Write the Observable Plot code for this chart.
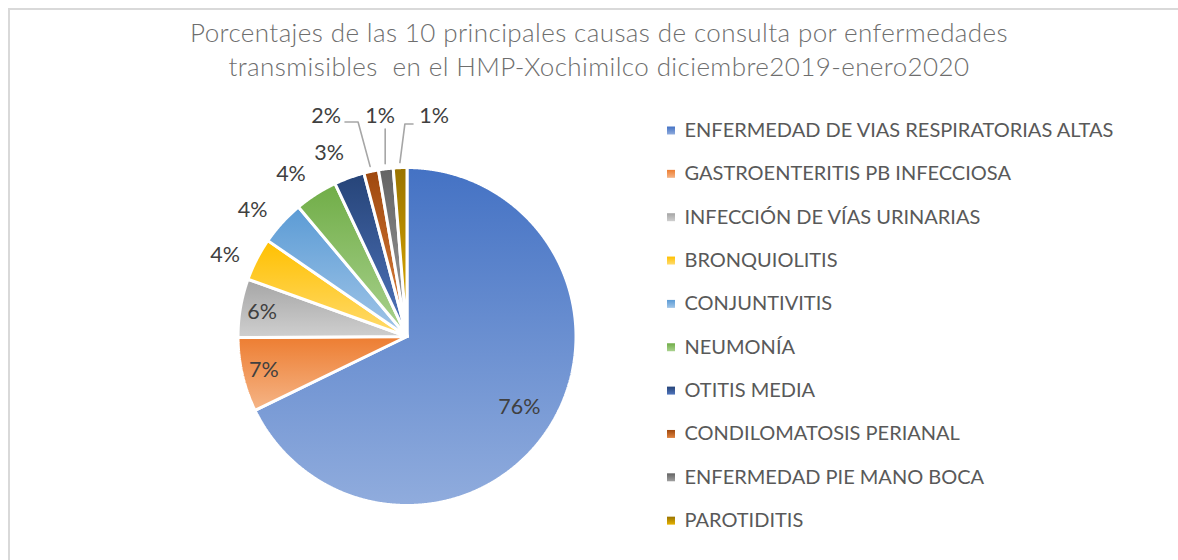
<!DOCTYPE html>
<html><head><meta charset="utf-8">
<script src="https://cdn.jsdelivr.net/npm/d3@7"></script>
<script src="https://cdn.jsdelivr.net/npm/@observablehq/plot@0.6"></script>
<style>
html,body{margin:0;padding:0;background:#fff;width:1178px;height:560px;overflow:hidden}
#frame{position:absolute;left:8px;top:8px;width:1220px;height:620px;border-left:2px solid #d9d9d9;border-top:2px solid #d9d9d9}
#chart{position:absolute;left:0;top:0}
#title{position:absolute;left:0;top:15px;width:1198px;text-align:center;font-family:Lato,"Open Sans",sans-serif;font-weight:300;font-size:26px;letter-spacing:0.4px;line-height:34px;color:#6e6e6e;white-space:pre}
</style></head><body>
<div id="frame"></div>
<div id="chart"></div>
<div id="title"></div>
<script>
// ---- data ----
const categories = [
  "ENFERMEDAD DE VIAS RESPIRATORIAS ALTAS",
  "GASTROENTERITIS PB INFECCIOSA",
  "INFECCIÓN DE VÍAS URINARIAS",
  "BRONQUIOLITIS",
  "CONJUNTIVITIS",
  "NEUMONÍA",
  "OTITIS MEDIA",
  "CONDILOMATOSIS PERIANAL",
  "ENFERMEDAD PIE MANO BOCA",
  "PAROTIDITIS"
];
// percentages printed on the chart
const percentLabels = [76, 7, 6, 4, 4, 4, 3, 2, 1, 1];
// angular share of each slice as drawn in the picture (estimated)
const sliceShares = [67.8, 7.1, 5.6, 4.1, 4.3, 4.1, 2.9, 1.4, 1.4, 1.3];
const labelPlacement = ["inside","inside","inside","outside","outside","outside","outside","leader","leader","leader"];
const gradientTop    = ["#4472C4","#ED7D31","#A5A5A5","#FFC000","#5B9BD5","#70AD47","#264478","#9E480E","#636363","#997300"];
const gradientBottom = ["#90ACDD","#F5B587","#CFCFCF","#FFDB6E","#A2C6E8","#AAD28F","#5075BD","#E0833F","#A0A0A0","#E6B200"];
const titleLines = [
  "Porcentajes de las 10 principales causas de consulta por enfermedades",
  "transmisibles  en el HMP-Xochimilco diciembre2019-enero2020"
];

// ---- layout ----
const W = 1178, H = 560;
const cx = 406.5, cy = 336, R = 169;
const legendX = 670.5, legendTextX = 684, legendTop = 130, legendStep = 43.35;

document.getElementById("title").textContent = titleLines.join("\n");

const rows = categories.map((cat, i) => ({
  cat, i, share: sliceShares[i], pct: percentLabels[i], place: labelPlacement[i]
}));
const arcs = d3.pie().sort(null).value(d => d.share)(rows);
const pt = (a, r) => ({x: cx + r * Math.sin(a), y: cy - r * Math.cos(a)});

// slice polygons
const slicePts = [];
arcs.forEach(a => {
  slicePts.push({cat: a.data.cat, ...pt(0, 0)});
  const n = Math.max(2, Math.ceil((a.endAngle - a.startAngle) / (Math.PI / 720)));
  for (let k = 0; k <= n; k++) {
    const ang = a.startAngle + (a.endAngle - a.startAngle) * k / n;
    slicePts.push({cat: a.data.cat, ...pt(ang, R)});
  }
  slicePts.push({cat: a.data.cat, ...pt(0, 0)});
});

// labels
const deg = Math.PI / 180;
const labelPts = [];
const leaderPts = [];
let leaderIdx = 0;
const nLeader = labelPlacement.filter(p => p === "leader").length;
arcs.forEach(a => {
  const mid = (a.startAngle + a.endAngle) / 2;
  const d = a.data;
  let p;
  if (d.place === "inside") {
    p = pt(mid, R * (d.share > 50 ? 0.785 : 0.87));
  } else if (d.place === "outside") {
    p = pt(mid - 3 * deg, R * 1.18);
  } else {
    p = {x: cx + (leaderIdx - (nLeader - 1) / 2 - 0.5) * 54, y: cy - R * 1.305};
    leaderIdx++;
    const e = pt(mid, R * 1.03);
    const dx = p.x - e.x;
    let s, el;
    if (dx < -15) { s = {x: p.x + 19, y: p.y + 6}; el = {x: e.x - 12, y: p.y + 6}; }
    else if (dx > 15) { s = {x: p.x - 21, y: p.y + 8}; el = {x: e.x + 5, y: p.y + 8}; }
    else { s = {x: e.x, y: p.y + 13}; el = s; }
    leaderPts.push({cat: d.cat, ...s}, {cat: d.cat, ...el}, {cat: d.cat, ...e});
  }
  labelPts.push({cat: d.cat, text: d.pct + "%", ...p});
});

const gradients = () => {
  const defs = d3.create("svg:defs");
  categories.forEach((c, i) => {
    const g = defs.append("linearGradient").attr("id", "grad" + i)
      .attr("x1", 0).attr("y1", 0).attr("x2", 0).attr("y2", 1);
    g.append("stop").attr("offset", "0%").attr("stop-color", gradientTop[i]);
    g.append("stop").attr("offset", "100%").attr("stop-color", gradientBottom[i]);
  });
  return defs.node();
};

const chart = Plot.plot({
  width: W, height: H, margin: 0,
  x: {domain: [0, W], range: [0, W], axis: null},
  y: {domain: [0, H], range: [0, H], axis: null},
  color: {type: "ordinal", domain: categories, range: categories.map((c, i) => `url(#grad${i})`)},
  style: {fontFamily: "Lato, 'Open Sans', sans-serif", background: "transparent", overflow: "visible"},
  marks: [
    gradients,
    Plot.line(slicePts, {x: "x", y: "y", z: "cat", fill: "cat", stroke: "white", strokeWidth: 3, strokeLinejoin: "miter", curve: "linear"}),
    Plot.line(leaderPts, {x: "x", y: "y", z: "cat", stroke: "#a6a6a6", strokeWidth: 1.6}),
    Plot.text(labelPts, {x: "x", y: "y", text: "text", fill: "#404040", fontSize: 21.5}),
    Plot.dot(rows, {x: () => legendX, y: d => legendTop + d.i * legendStep, symbol: "square", r: 4.5, fill: "cat", stroke: null}),
    Plot.text(rows, {x: () => legendTextX, y: d => legendTop + d.i * legendStep, text: "cat", textAnchor: "start", fill: "#595959", fontSize: 20})
  ]
});
document.getElementById("chart").appendChild(chart);
</script>
</body></html>
